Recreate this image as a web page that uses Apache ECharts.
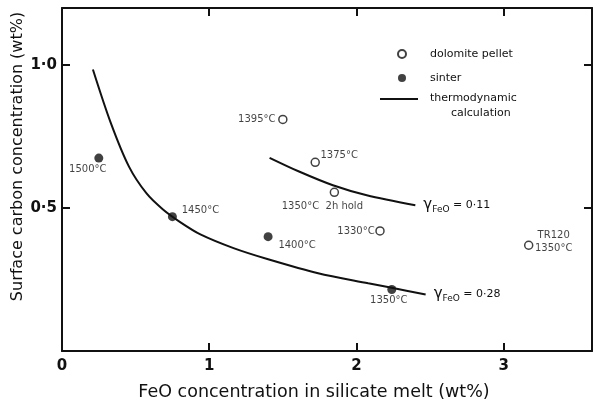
<!DOCTYPE html>
<html>
<head>
<meta charset="utf-8">
<script src="https://cdn.jsdelivr.net/npm/echarts@6/dist/echarts.min.js"></script>
<style>
html, body { margin: 0; padding: 0; background: #fff; }
#chart { width: 600px; height: 407px; }
</style>
</head>
<body>
<div id="chart"></div>
<script>
// sinter points
const sinterX = [0.25, 0.75, 1.40, 2.24];
const sinterY = [0.675, 0.47, 0.40, 0.215];
const sinterLabels = ['1500°C', '1450°C', '1400°C', '1350°C'];
// dolomite pellet points
const pelletX = [1.50, 1.72, 1.85, 2.16, 3.17];
const pelletY = [0.81, 0.66, 0.555, 0.42, 0.37];
const pelletLabels = ['1395°C', '1375°C', '1350°C  2h hold', '1330°C', 'TR120\n1350°C'];
// thermodynamic calculation, gamma FeO = 0.28
const calc028X = [0.21, 0.33, 0.455, 0.573, 0.684, 0.80, 0.94, 1.165, 1.40, 1.74, 2.08, 2.24, 2.47];
const calc028Y = [0.985, 0.80, 0.645, 0.552, 0.496, 0.452, 0.408, 0.360, 0.321, 0.272, 0.237, 0.221, 0.198];
// thermodynamic calculation, gamma FeO = 0.11
const calc011X = [1.41, 1.61, 1.84, 2.07, 2.40];
const calc011Y = [0.676, 0.628, 0.580, 0.545, 0.510];
const curveNames = ['0·28', '0·11'];
const xTicks = [0, 1, 2, 3];
const yTicks = { 0.5: '0·5', 1: '1·0' };

// label offsets (px) for point annotations
const sinterOffsets = [[-11, 11], [28, -6], [29, 9], [-3, 11]];
const pelletOffsets = [[-26, 0], [24, -7], [-12, 14], [-24, 0], [25, -3]];

const FONT = 'DejaVu Sans';
const INK = '#111';

const toPoints = (xs, ys, labels, offsets) => xs.map((x, i) => ({
    value: [x, ys[i]],
    label: { show: true, formatter: labels[i], offset: offsets[i] }
}));

const gammaLabel = (txt) => ({
    show: true,
    distance: 8,
    formatter: '{g|γ}{s|FeO}{t| = ' + txt + '}',
    rich: {
        g: { fontFamily: FONT, fontSize: 15, color: INK, lineHeight: 18 },
        s: { fontFamily: FONT, fontSize: 9, color: INK, lineHeight: 10, padding: [8, 0, 0, 0] },
        t: { fontFamily: FONT, fontSize: 11, color: INK, lineHeight: 18 }
    }
});

const axisCommon = {
    type: 'value',
    splitLine: { show: false },
    axisLine: { show: true, onZero: false, lineStyle: { color: INK, width: 2 } },
    axisTick: { show: true, inside: true, length: 8, lineStyle: { color: INK, width: 2 } }
};

const chart = echarts.init(document.getElementById('chart'));
chart.setOption({
    animation: false,
    backgroundColor: '#fff',
    grid: { left: 62, top: 8, right: 8, bottom: 56, containLabel: false, outerBoundsMode: 'none' },
    legend: [{
        data: ['dolomite pellet', 'sinter'],
        orient: 'vertical',
        left: 392, top: 42,
        itemWidth: 40, itemHeight: 8, itemGap: 10,
        selectedMode: false,
        textStyle: { fontFamily: FONT, fontSize: 11, color: INK, lineHeight: 14, padding: [0, 0, 0, 3] }
    }, {
        data: [{ name: 'thermodynamic calculation', icon: 'path://M0,0H38V2H0Z M0,15.9H0.1V16H0Z' }],
        orient: 'vertical',
        left: 375, top: 86,
        itemWidth: 38, itemHeight: 16,
        selectedMode: false,
        formatter: () => 'thermodynamic\n      calculation',
        textStyle: { fontFamily: FONT, fontSize: 11, color: INK, lineHeight: 15, padding: [0, 0, 0, 7] }
    }],
    xAxis: [Object.assign({}, axisCommon, {
        position: 'bottom', min: 0, max: 3.6, interval: 1,
        axisLabel: {
            margin: 8, fontFamily: FONT, fontSize: 15, fontWeight: 'bold', color: INK,
            formatter: v => xTicks.includes(v) ? String(v) : ''
        },
        name: 'FeO concentration in silicate melt (wt%)',
        nameLocation: 'middle', nameGap: 32, nameMoveOverlap: false,
        nameTextStyle: { fontFamily: FONT, fontSize: 17.5, color: INK, padding: [0, 26, 0, 0] }
    }), Object.assign({}, axisCommon, {
        position: 'top', min: 0, max: 3.6, interval: 1,
        axisLabel: { show: false }
    })],
    yAxis: [Object.assign({}, axisCommon, {
        position: 'left', min: 0, max: 1.2, interval: 0.5,
        axisLabel: {
            margin: 5, fontFamily: FONT, fontSize: 15, fontWeight: 'bold', color: INK,
            formatter: v => yTicks[v] || ''
        },
        name: 'Surface carbon concentration (wt%)',
        nameLocation: 'middle', nameGap: 36, nameMoveOverlap: false,
        nameTextStyle: { fontFamily: FONT, fontSize: 16, color: INK, padding: [0, 0, 0, 46] }
    }), Object.assign({}, axisCommon, {
        position: 'right', min: 0, max: 1.2, interval: 0.5,
        axisLabel: { show: false }
    })],
    series: [{
        name: 'thermodynamic calculation',
        type: 'line',
        symbol: 'none',
        smooth: 0.3,
        lineStyle: { color: INK, width: 2 },
        itemStyle: { color: INK },
        data: calc028X.map((x, i) => [x, calc028Y[i]]),
        endLabel: gammaLabel(curveNames[0])
    }, {
        name: 'thermodynamic calculation',
        type: 'line',
        symbol: 'none',
        smooth: 0.3,
        lineStyle: { color: INK, width: 2 },
        itemStyle: { color: INK },
        data: calc011X.map((x, i) => [x, calc011Y[i]]),
        endLabel: gammaLabel(curveNames[1])
    }, {
        name: 'dolomite pellet',
        type: 'scatter',
        symbol: 'circle',
        symbolSize: 8,
        itemStyle: { color: '#fff', borderColor: INK, borderWidth: 1.5 },
        label: { position: 'inside', fontFamily: FONT, fontSize: 10, color: INK, lineHeight: 13 },
        data: toPoints(pelletX, pelletY, pelletLabels, pelletOffsets)
    }, {
        name: 'sinter',
        type: 'scatter',
        symbol: 'circle',
        symbolSize: 9,
        itemStyle: { color: INK },
        label: { position: 'inside', fontFamily: FONT, fontSize: 10, color: INK },
        data: toPoints(sinterX, sinterY, sinterLabels, sinterOffsets)
    }]
});
</script>
</body>
</html>
